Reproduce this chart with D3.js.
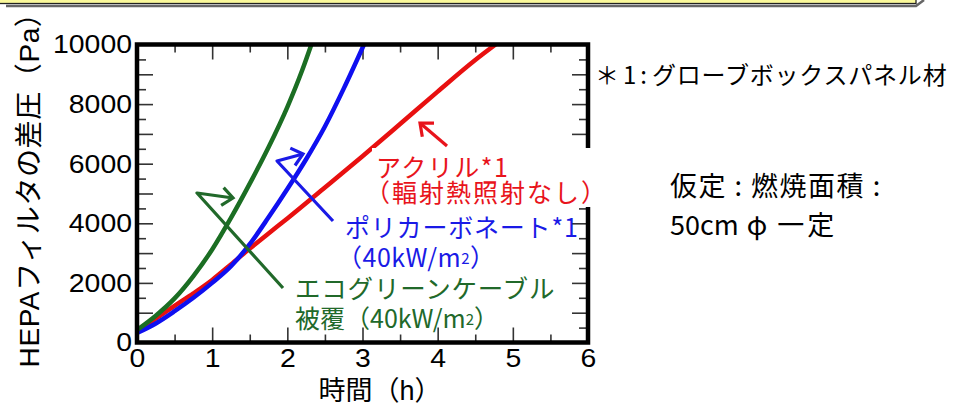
<!DOCTYPE html>
<html>
<head>
<meta charset="utf-8">
<script src="https://cdn.jsdelivr.net/npm/d3@7"></script>
<style>
  body { margin: 0; background: #fff; }
  svg { display: block; }
  text { font-family: "Liberation Sans", "Noto Sans CJK JP", sans-serif; }
  .jp { font-family: "Noto Sans CJK JP", sans-serif; }
</style>
</head>
<body>
<svg width="957" height="403"></svg>
<script>
// time (h) and HEPA filter differential pressure (Pa)
const greenHours = [0, 0.25, 0.5, 0.75, 1.0, 1.25, 1.5, 1.75, 2.0, 2.2, 2.32]
const greenPa = [420, 900, 1480, 2230, 3120, 4180, 5330, 6550, 7900, 9150, 10000]
const blueHours = [0, 0.25, 0.5, 0.75, 1.0, 1.25, 1.5, 1.75, 2.0, 2.25, 2.5, 2.75, 3.02]
const bluePa = [320, 640, 1050, 1500, 2000, 2560, 3300, 4200, 5150, 6150, 7250, 8520, 10000]
const redHours = [0, 0.25, 0.5, 0.75, 1.0, 1.25, 1.5, 1.75, 2.0, 2.5, 3.0, 3.5, 4.0, 4.5, 4.77]
const redPa = [350, 800, 1230, 1650, 2100, 2620, 3150, 3660, 4160, 5200, 6250, 7330, 8420, 9480, 10000]

const xTicks = [0, 1, 2, 3, 4, 5, 6]
const yTicks = [0, 2000, 4000, 6000, 8000, 10000]

let svg = d3.select("svg"),
    margin = {top: 44.5, right: 369, bottom: 60.5, left: 137},
    width = +svg.attr("width") - margin.left - margin.right,
    height = +svg.attr("height") - margin.top - margin.bottom

let x = d3.scaleLinear().domain([0, 6]).range([0, width])
let y = d3.scaleLinear().domain([0, 10000]).range([height, 0])

// yellow title box cut off at the top
svg.append("path")
    .attr("d", "M6,6 L916,6 L924,0")
    .attr("fill", "none").attr("stroke", "#666").attr("stroke-width", 2.5)
svg.append("rect")
    .attr("x", -4).attr("y", -20).attr("width", 920).attr("height", 23.5)
    .attr("fill", "#fbf99a").attr("stroke", "#222").attr("stroke-width", 1.3)

let g = svg.append("g").attr("transform", "translate(" + margin.left + "," + margin.top + ")")

g.append("clipPath").attr("id", "plot")
    .append("rect").attr("width", width).attr("height", height)

function tickAxis(axis, values, size, fmt) {
    return axis.tickValues(values).tickSize(size).tickSizeOuter(0)
        .tickFormat(fmt || (() => ""))
}
let halfX = d3.range(0.5, 6, 1)
let thousands = d3.range(1000, 10000, 1000)
let halfY = d3.range(500, 10000, 1000)

let axes = [
    [tickAxis(d3.axisBottom(x), xTicks, -15, d3.format("d")).tickPadding(6), [0, height]],
    [tickAxis(d3.axisBottom(x), halfX, -8), [0, height]],
    [tickAxis(d3.axisTop(x), xTicks, -15), [0, 0]],
    [tickAxis(d3.axisTop(x), halfX, -8), [0, 0]],
    [tickAxis(d3.axisLeft(y), yTicks, 0, d3.format("d")).tickPadding(5), [0, 0]],
    [tickAxis(d3.axisLeft(y), thousands, -16), [0, 0]],
    [tickAxis(d3.axisLeft(y), halfY, -9), [0, 0]],
    [tickAxis(d3.axisRight(y), thousands, -16), [width, 0]],
    [tickAxis(d3.axisRight(y), halfY, -9), [width, 0]]
]
axes.forEach(function (a) {
    let ag = g.append("g").attr("transform", "translate(" + a[1][0] + "," + a[1][1] + ")").call(a[0])
    ag.select(".domain").remove()
    ag.selectAll("line").attr("stroke", "#333").attr("stroke-width", 1.6)
    // digits in the picture are a little wider than Arial
    ag.selectAll("text").attr("font-size", 26).attr("fill", "#000")
        .style("font-family", "'Liberation Sans', Arial, sans-serif")
        .attr("textLength", function () { return this.textContent.length * 15.8 })
        .attr("lengthAdjust", "spacingAndGlyphs")
})

let line = d3.line()
    .x(d => x(d[0]))
    .y(d => y(d[1]))
    .curve(d3.curveMonotoneX)

let series = [
    {hours: redHours, pa: redPa, color: "#e81010"},
    {hours: blueHours, pa: bluePa, color: "#0f0ff0"},
    {hours: greenHours, pa: greenPa, color: "#1b6e23"}
]
g.append("g").attr("clip-path", "url(#plot)")
    .selectAll("path")
    .data(series)
    .enter()
    .append("path")
    .attr("d", d => line(d.hours.map((h, i) => [h, d.pa[i]])))
    .attr("fill", "none")
    .attr("stroke", d => d.color)
    .attr("stroke-width", 4.5)
    .attr("stroke-linecap", "round")

// frame
g.append("rect")
    .attr("width", width).attr("height", height)
    .attr("fill", "none").attr("stroke", "#000").attr("stroke-width", 4.5)

// arrows (shaft points, last point is the tip)
let arrows = [
    {pts: [[447, 146], [420, 123]], color: "#e8141c"},
    {pts: [[333, 221], [277, 161], [303, 154]], color: "#1a1ae6"},
    {pts: [[283, 288], [197, 193], [233, 198]], color: "#21692a"}
]
arrows.forEach(function (a) {
    let p = a.pts
    svg.append("path")
        .attr("d", d3.line()(p))
        .attr("fill", "none").attr("stroke", a.color).attr("stroke-width", 3.2)
        .attr("stroke-linejoin", "round")
    let tip = p[p.length - 1], prev = p[p.length - 2]
    let ang = Math.atan2(tip[1] - prev[1], tip[0] - prev[0])
    let head = [-0.7, 0.7].map(o => [tip[0] - 14 * Math.cos(ang + o), tip[1] - 14 * Math.sin(ang + o)])
    svg.append("path")
        .attr("d", d3.line()([head[0], tip, head[1]]))
        .attr("fill", "none").attr("stroke", a.color).attr("stroke-width", 3.2)
        .attr("stroke-linejoin", "miter")
})

// white box behind the acrylic label (hides part of the right axis)
svg.append("rect").attr("x", 372).attr("y", 148).attr("width", 228).attr("height", 59).attr("fill", "#fff")

function label(xp, yp, str, color, size, spacing) {
    let t = svg.append("text").attr("class", "jp")
        .attr("x", xp).attr("y", yp).attr("font-size", size).attr("fill", color)
        .attr("letter-spacing", spacing || 0)
    let parts = str.split("^2")
    t.append("tspan").text(parts[0])
    if (parts.length > 1) {
        t.append("tspan").attr("font-size", size * 0.6).attr("dy", -3).text("2")
        t.append("tspan").attr("dy", 3).text(parts[1])
    }
    return t
}

label(376, 177, "アクリル*1", "#e8141c", 25, 1.5)
label(365, 202, "（輻射熱照射なし）", "#e8141c", 25, 2)
label(345, 237, "ポリカーボネート*1", "#1a1ae6", 25, 0.8)
label(337, 267, "（40kW/m^2）", "#1a1ae6", 25, 0.5)
label(295, 298, "エコグリーンケーブル", "#21692a", 25.5, 0.8)
label(295, 328, "被覆（40kW/m^2）", "#21692a", 25, 0)

// side notes
label(595, 84, "＊1:", "#000", 24, 4)
label(652, 84, "グローブボックスパネル材", "#000", 24, 0.8)
label(670, 196, "仮定 : 燃焼面積 :", "#000", 27, 1.5)
let note = label(670, 235, "50cm", "#000", 27, 0)
note.append("tspan").attr("dx", 8).text("φ")
note.append("tspan").attr("dx", 10).attr("letter-spacing", 3).text("一定")

// axis titles
svg.append("text")
    .attr("transform", "translate(39,183) rotate(-90)")
    .attr("text-anchor", "middle")
    .attr("font-size", 28)
    .attr("letter-spacing", 0.6)
    .text("HEPAフィルタの差圧（Pa）")
svg.append("text")
    .attr("x", 380).attr("y", 400)
    .attr("text-anchor", "middle")
    .attr("font-size", 27)
    .text("時間（h）")
</script>
</body>
</html>
